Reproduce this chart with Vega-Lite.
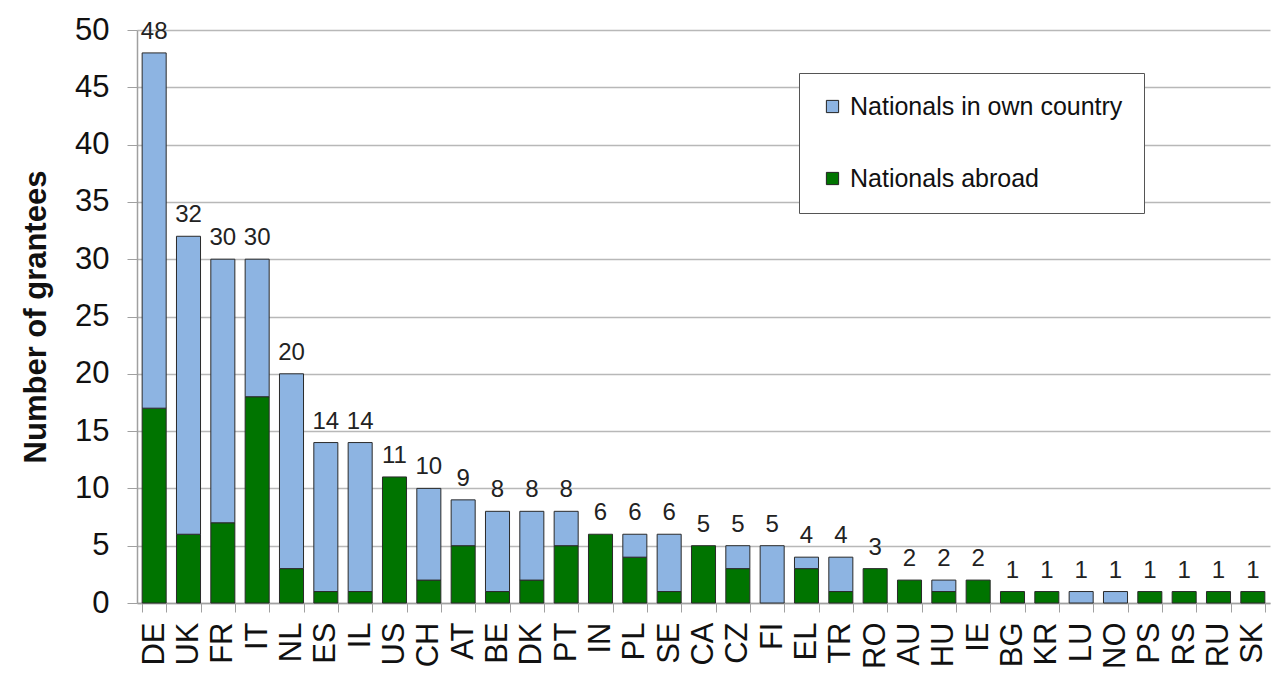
{
  "$schema": "https://vega.github.io/schema/vega-lite/v6.json",
  "autosize": {"type": "none"},
  "width": 1133,
  "height": 573,
  "padding": {"left": 137, "top": 30, "right": 3, "bottom": 70},
  "background": "white",
  "config": {
    "font": "Liberation Sans",
    "view": {"stroke": null}
  },
  "data": {
    "values": [
      {"country": "DE", "group": "Nationals abroad", "n": 17}, {"country": "DE", "group": "Nationals in own country", "n": 31},
      {"country": "UK", "group": "Nationals abroad", "n": 6}, {"country": "UK", "group": "Nationals in own country", "n": 26},
      {"country": "FR", "group": "Nationals abroad", "n": 7}, {"country": "FR", "group": "Nationals in own country", "n": 23},
      {"country": "IT", "group": "Nationals abroad", "n": 18}, {"country": "IT", "group": "Nationals in own country", "n": 12},
      {"country": "NL", "group": "Nationals abroad", "n": 3}, {"country": "NL", "group": "Nationals in own country", "n": 17},
      {"country": "ES", "group": "Nationals abroad", "n": 1}, {"country": "ES", "group": "Nationals in own country", "n": 13},
      {"country": "IL", "group": "Nationals abroad", "n": 1}, {"country": "IL", "group": "Nationals in own country", "n": 13},
      {"country": "US", "group": "Nationals abroad", "n": 11}, {"country": "US", "group": "Nationals in own country", "n": 0},
      {"country": "CH", "group": "Nationals abroad", "n": 2}, {"country": "CH", "group": "Nationals in own country", "n": 8},
      {"country": "AT", "group": "Nationals abroad", "n": 5}, {"country": "AT", "group": "Nationals in own country", "n": 4},
      {"country": "BE", "group": "Nationals abroad", "n": 1}, {"country": "BE", "group": "Nationals in own country", "n": 7},
      {"country": "DK", "group": "Nationals abroad", "n": 2}, {"country": "DK", "group": "Nationals in own country", "n": 6},
      {"country": "PT", "group": "Nationals abroad", "n": 5}, {"country": "PT", "group": "Nationals in own country", "n": 3},
      {"country": "IN", "group": "Nationals abroad", "n": 6}, {"country": "IN", "group": "Nationals in own country", "n": 0},
      {"country": "PL", "group": "Nationals abroad", "n": 4}, {"country": "PL", "group": "Nationals in own country", "n": 2},
      {"country": "SE", "group": "Nationals abroad", "n": 1}, {"country": "SE", "group": "Nationals in own country", "n": 5},
      {"country": "CA", "group": "Nationals abroad", "n": 5}, {"country": "CA", "group": "Nationals in own country", "n": 0},
      {"country": "CZ", "group": "Nationals abroad", "n": 3}, {"country": "CZ", "group": "Nationals in own country", "n": 2},
      {"country": "FI", "group": "Nationals abroad", "n": 0}, {"country": "FI", "group": "Nationals in own country", "n": 5},
      {"country": "EL", "group": "Nationals abroad", "n": 3}, {"country": "EL", "group": "Nationals in own country", "n": 1},
      {"country": "TR", "group": "Nationals abroad", "n": 1}, {"country": "TR", "group": "Nationals in own country", "n": 3},
      {"country": "RO", "group": "Nationals abroad", "n": 3}, {"country": "RO", "group": "Nationals in own country", "n": 0},
      {"country": "AU", "group": "Nationals abroad", "n": 2}, {"country": "AU", "group": "Nationals in own country", "n": 0},
      {"country": "HU", "group": "Nationals abroad", "n": 1}, {"country": "HU", "group": "Nationals in own country", "n": 1},
      {"country": "IE", "group": "Nationals abroad", "n": 2}, {"country": "IE", "group": "Nationals in own country", "n": 0},
      {"country": "BG", "group": "Nationals abroad", "n": 1}, {"country": "BG", "group": "Nationals in own country", "n": 0},
      {"country": "KR", "group": "Nationals abroad", "n": 1}, {"country": "KR", "group": "Nationals in own country", "n": 0},
      {"country": "LU", "group": "Nationals abroad", "n": 0}, {"country": "LU", "group": "Nationals in own country", "n": 1},
      {"country": "NO", "group": "Nationals abroad", "n": 0}, {"country": "NO", "group": "Nationals in own country", "n": 1},
      {"country": "PS", "group": "Nationals abroad", "n": 1}, {"country": "PS", "group": "Nationals in own country", "n": 0},
      {"country": "RS", "group": "Nationals abroad", "n": 1}, {"country": "RS", "group": "Nationals in own country", "n": 0},
      {"country": "RU", "group": "Nationals abroad", "n": 1}, {"country": "RU", "group": "Nationals in own country", "n": 0},
      {"country": "SK", "group": "Nationals abroad", "n": 1}, {"country": "SK", "group": "Nationals in own country", "n": 0}
    ]
  },
  "encoding": {
    "x": {
      "field": "country", "type": "nominal", "sort": null,
      "scale": {"paddingInner": 0.3, "paddingOuter": 0.15},
      "axis": {
        "title": null, "labelAngle": -90, "labelFontSize": 31, "labelColor": "#111",
        "labelPadding": 10, "tickBand": "extent", "tickSize": 9, "tickColor": "#a0a0a0",
        "domainColor": "#a0a0a0", "domainWidth": 1.5, "grid": false
      }
    }
  },
  "layer": [
    {
      "transform": [{"filter": "datum.n > 0"}],
      "mark": {"type": "bar", "stroke": "#2a2a2a", "strokeWidth": 1},
      "encoding": {
        "y": {
          "field": "n", "type": "quantitative", "stack": "zero",
          "scale": {"domain": [0, 50]},
          "axis": {
            "title": "Number of grantees", "titleFontSize": 31, "titleFontWeight": "bold",
            "titleColor": "#111", "titlePadding": 22,
            "values": [0, 5, 10, 15, 20, 25, 30, 35, 40, 45, 50],
            "labelFontSize": 31, "labelColor": "#111", "labelPadding": 18,
            "tickSize": 10, "tickColor": "#a0a0a0", "domainColor": "#a0a0a0", "domainWidth": 1.5,
            "gridColor": "#b8b8b8", "gridWidth": 1.5
          }
        },
        "color": {
          "field": "group", "type": "nominal",
          "scale": {"domain": ["Nationals in own country", "Nationals abroad"], "range": ["#8db4e2", "#007400"]},
          "legend": {
            "title": null, "orient": "none", "legendX": 662, "legendY": 43,
            "direction": "vertical", "symbolType": "square", "symbolSize": 150,
            "symbolStrokeColor": "#222", "symbolStrokeWidth": 1,
            "labelFontSize": 25, "labelColor": "#111", "labelLimit": 400,
            "rowPadding": 46, "padding": 21, "strokeColor": "#555", "fillColor": "white",
            "labelOffset": 5
          }
        },
        "order": {"field": "group", "sort": "ascending"}
      }
    },
    {
      "mark": {"type": "text", "baseline": "bottom", "dy": -9, "fontSize": 24, "color": "#222"},
      "encoding": {
        "y": {"aggregate": "sum", "field": "n", "type": "quantitative"},
        "text": {"aggregate": "sum", "field": "n", "type": "quantitative"}
      }
    }
  ]
}
